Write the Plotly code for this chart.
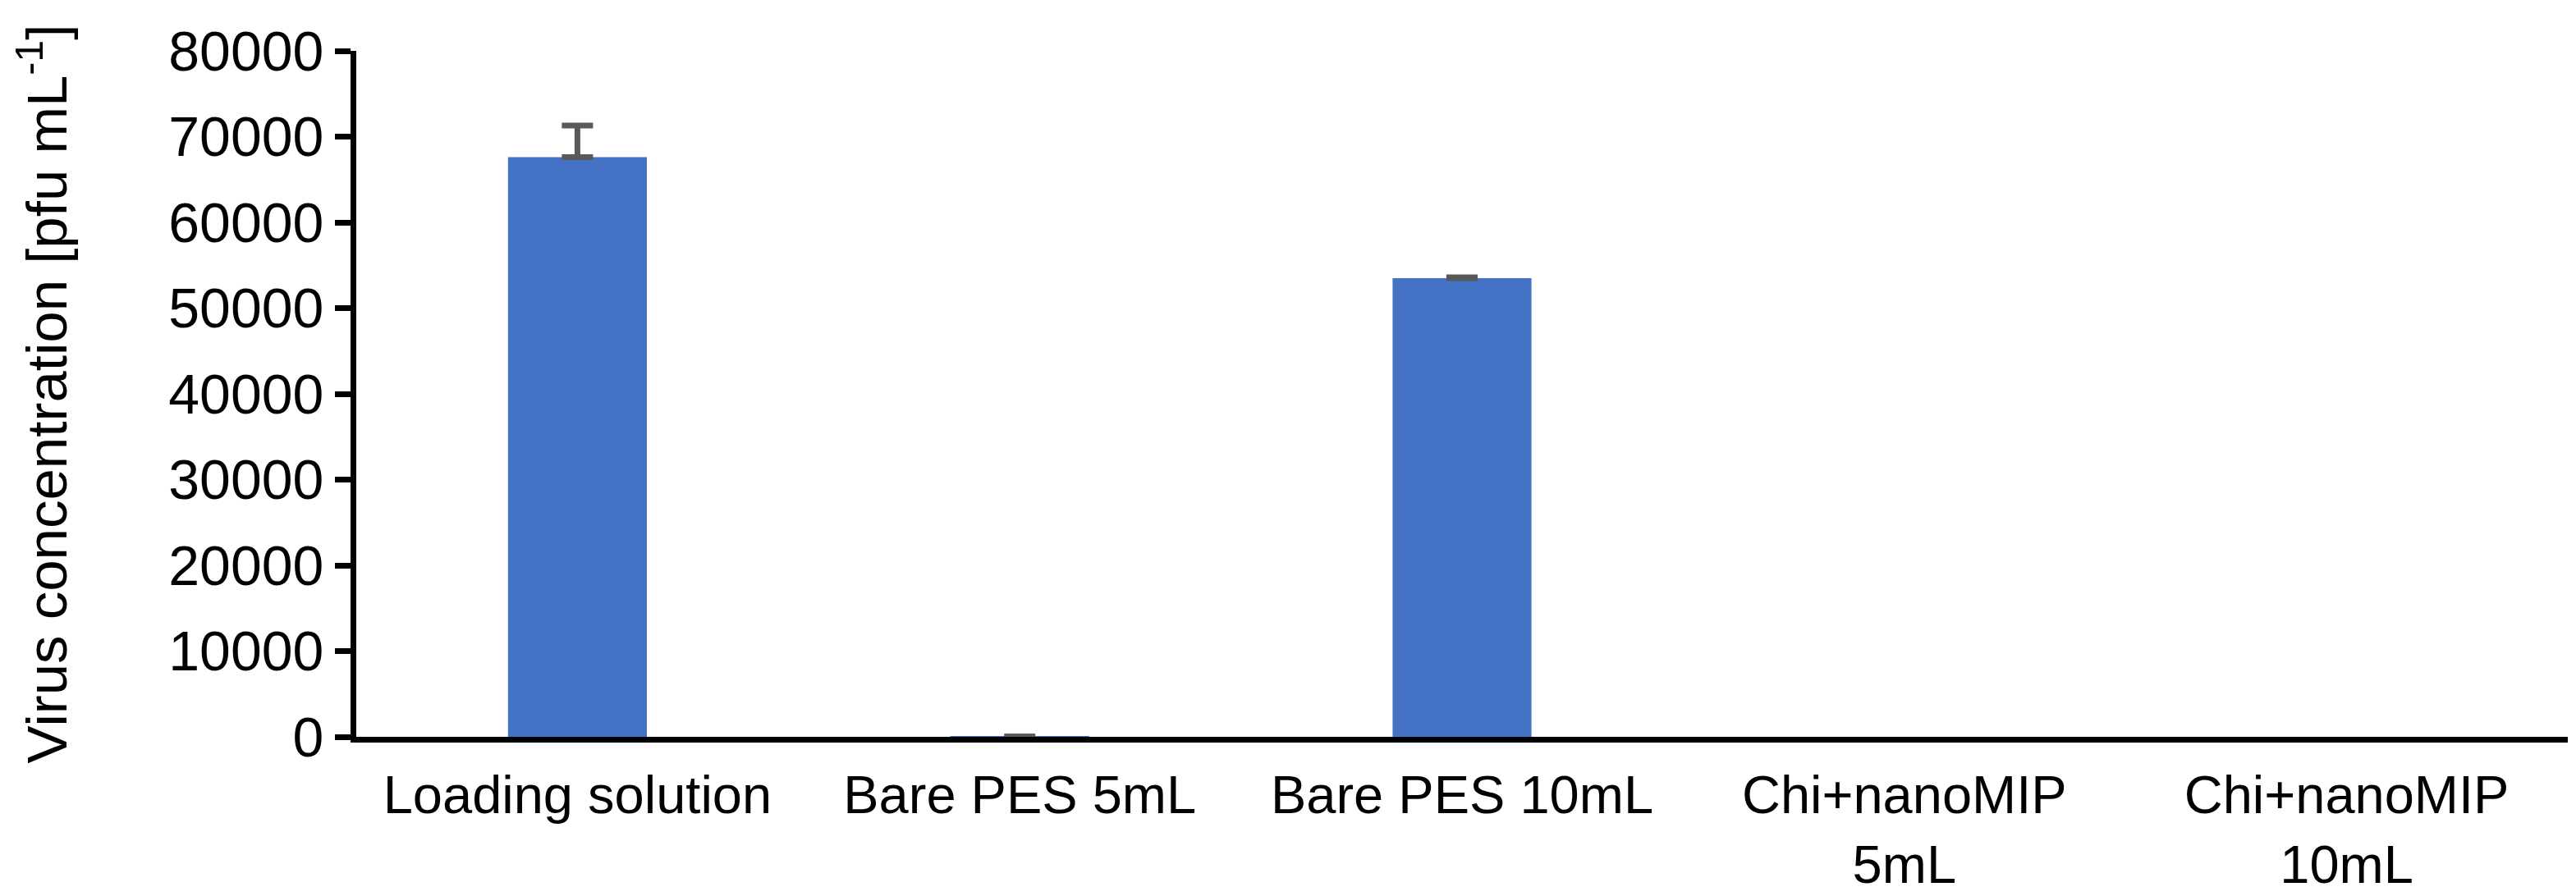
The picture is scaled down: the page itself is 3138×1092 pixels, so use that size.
import plotly.graph_objects as go

# categories and values
categories = ["Loading solution", "Bare PES 5mL", "Bare PES 10mL",
              "Chi+nanoMIP<br>5mL", "Chi+nanoMIP<br>10mL"]
concentration = [67600, 20, 53500, 0, 0]
err_plus = [3700, 20, 100, 0, 0]
err_minus = [0, 0, 0, 0, 0]

y_ticks = [0, 10000, 20000, 30000, 40000, 50000, 60000, 70000, 80000]

FONT = "Liberation Sans, Arial, sans-serif"

fig = go.Figure(go.Bar(
    x=categories, y=concentration,
    marker=dict(color="#4472C4", line=dict(width=0)),
))

# error bars only where the reference shows them (zero bars have none)
has_err = [i for i, e in enumerate(err_plus) if e > 0]
fig.add_trace(go.Scatter(
    x=[categories[i] for i in has_err], y=[concentration[i] for i in has_err],
    mode="markers", marker=dict(size=0.1, opacity=0), hoverinfo="skip",
    error_y=dict(type="data", symmetric=False,
                 array=[err_plus[i] for i in has_err],
                 arrayminus=[err_minus[i] for i in has_err],
                 color="#595959", thickness=7, width=19),
))

fig.update_layout(
    width=3138, height=1092,
    margin=dict(l=426, r=18, t=54, b=202),
    paper_bgcolor="white", plot_bgcolor="white",
    bargap=0.686,
    showlegend=False,
    font=dict(family=FONT, size=66, color="black"),
)
fig.update_xaxes(
    showline=True, linecolor="black", linewidth=7,
    ticks="", showgrid=False, tickfont=dict(size=65), ticklabelstandoff=8,
    automargin=False,
)
fig.update_yaxes(
    range=[0, 80000], tickvals=y_ticks, ticktext=[str(v) for v in y_ticks],
    showline=True, linecolor="black", linewidth=7,
    ticks="outside", ticklen=19, tickwidth=7, tickcolor="black",
    showgrid=False, zeroline=False, tickfont=dict(size=68), automargin=False,
    title=dict(text="Virus concentration [pfu mL<sup>-1</sup>]", font=dict(size=69), standoff=110),
)

fig.write_html("out.html")
